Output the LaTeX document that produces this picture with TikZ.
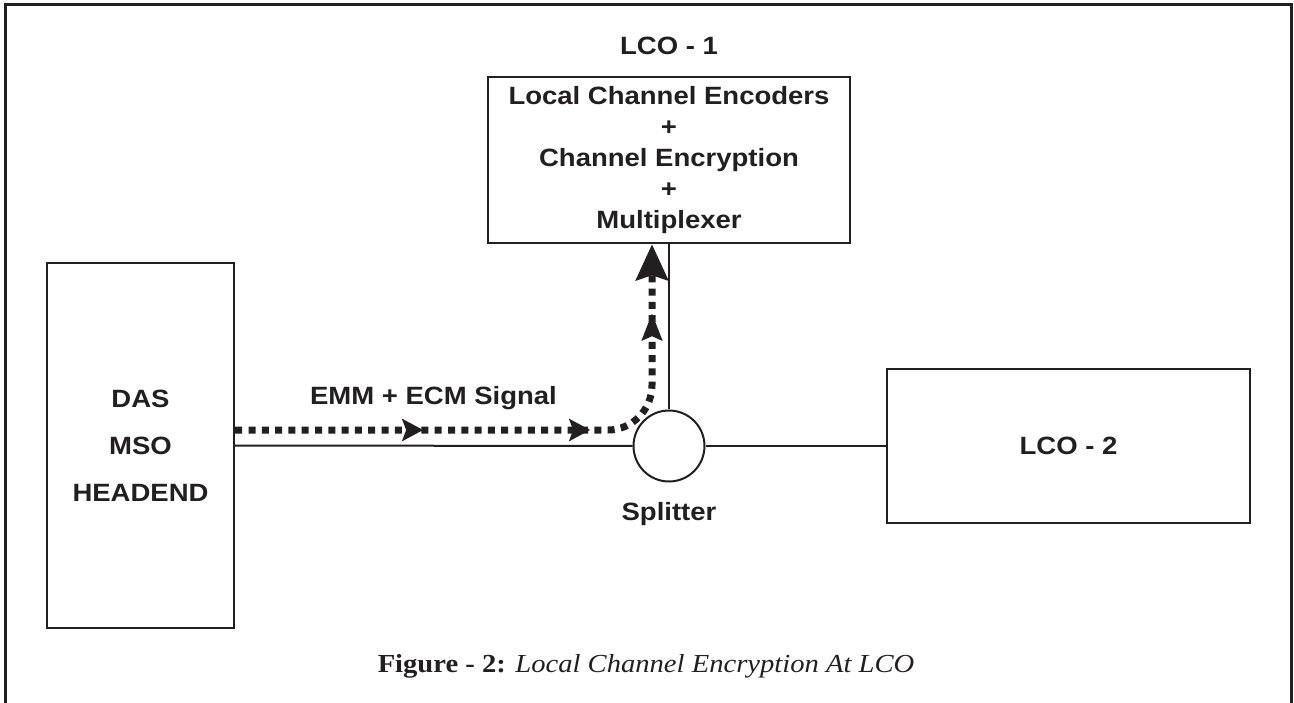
\documentclass[tikz,border=0pt]{standalone}
\usepackage{fontspec}
\newfontfamily\labfont{Liberation Sans}[FakeStretch=1.1]
\newfontfamily\capfont{Liberation Serif}[FakeStretch=1.1]
\usetikzlibrary{arrows.meta,decorations.markings}
\definecolor{ink}{RGB}{35,31,32}
\begin{document}
\begin{tikzpicture}[x=1pt,y=-1pt,
  lab/.style={font=\labfont\bfseries\fontsize{25}{31}\selectfont, text=ink},
  daslab/.style={font=\labfont\bfseries\fontsize{25}{47}\selectfont, text=ink},
  blk/.style={draw=ink, line width=2.4pt, rectangle, inner sep=0pt},
  wire/.style={draw=ink, line width=2pt},
  splitc/.style={draw=ink, line width=2pt, circle, minimum size=71pt, inner sep=0pt},
  sig/.style={draw=ink, line width=7pt, dash pattern=on 7pt off 6.3pt, line cap=butt},
  captxt/.style={font=\capfont\fontsize{26}{30}\selectfont, text=ink}
]
\useasboundingbox (0,0) rectangle (1294,703);
\draw[ink, line width=2.6pt] (5.3,720) -- (5.3,4.7) -- (1291.5,4.7) -- (1291.5,720);

\node[lab, anchor=base] (lco1lab) at (669,55) {LCO - 1};
\node[blk, lab, minimum width=362pt, minimum height=166pt, align=center] (enc) at (669,160)
  {Local Channel Encoders\\+\\Channel Encryption\\+\\Multiplexer};
\node[blk, daslab, minimum width=187pt, minimum height=365pt, align=center] (das) at (140.5,445.5)
  {DAS\\MSO\\HEADEND};
\node[splitc] (split) at (669,446) {};
\node[lab, anchor=base] (splitlab) at (669,520) {Splitter};
\node[blk, lab, minimum width=363pt, minimum height=154pt] (lco2) at (1068.5,446) {LCO - 2};
\node[lab, anchor=base] (emm) at (433.5,405) {EMM + ECM Signal};
\node[captxt, anchor=base] (cap) at (646,672) {\textbf{Figure - 2:} \textit{Local Channel Encryption At LCO}};

\draw[wire] (das.east) -- (split.west);
\draw[wire] (split.north) -- (enc.south);
\draw[wire] (split.east) -- (lco2.west);

\coordinate (s0) at ([yshift=15.5pt]das.east);
\coordinate (s1) at ([xshift=-17pt]enc.south);
\draw[sig, -{Stealth[length=36pt,width=32pt,inset=5pt]},
  postaction={decorate},
  decoration={markings,
    mark=at position 188pt with {\arrow{Stealth[length=21pt,width=22pt,inset=4pt]}},
    mark=at position 355pt with {\arrow{Stealth[length=21pt,width=22pt,inset=4pt]}},
    mark=at position -69pt with {\arrow{Stealth[length=27pt,width=20pt,inset=4pt]}}}]
  (s0) -- (608,430) .. controls (632,430) and (652,410) .. (652,385) -- (s1);
\end{tikzpicture}
\end{document}
